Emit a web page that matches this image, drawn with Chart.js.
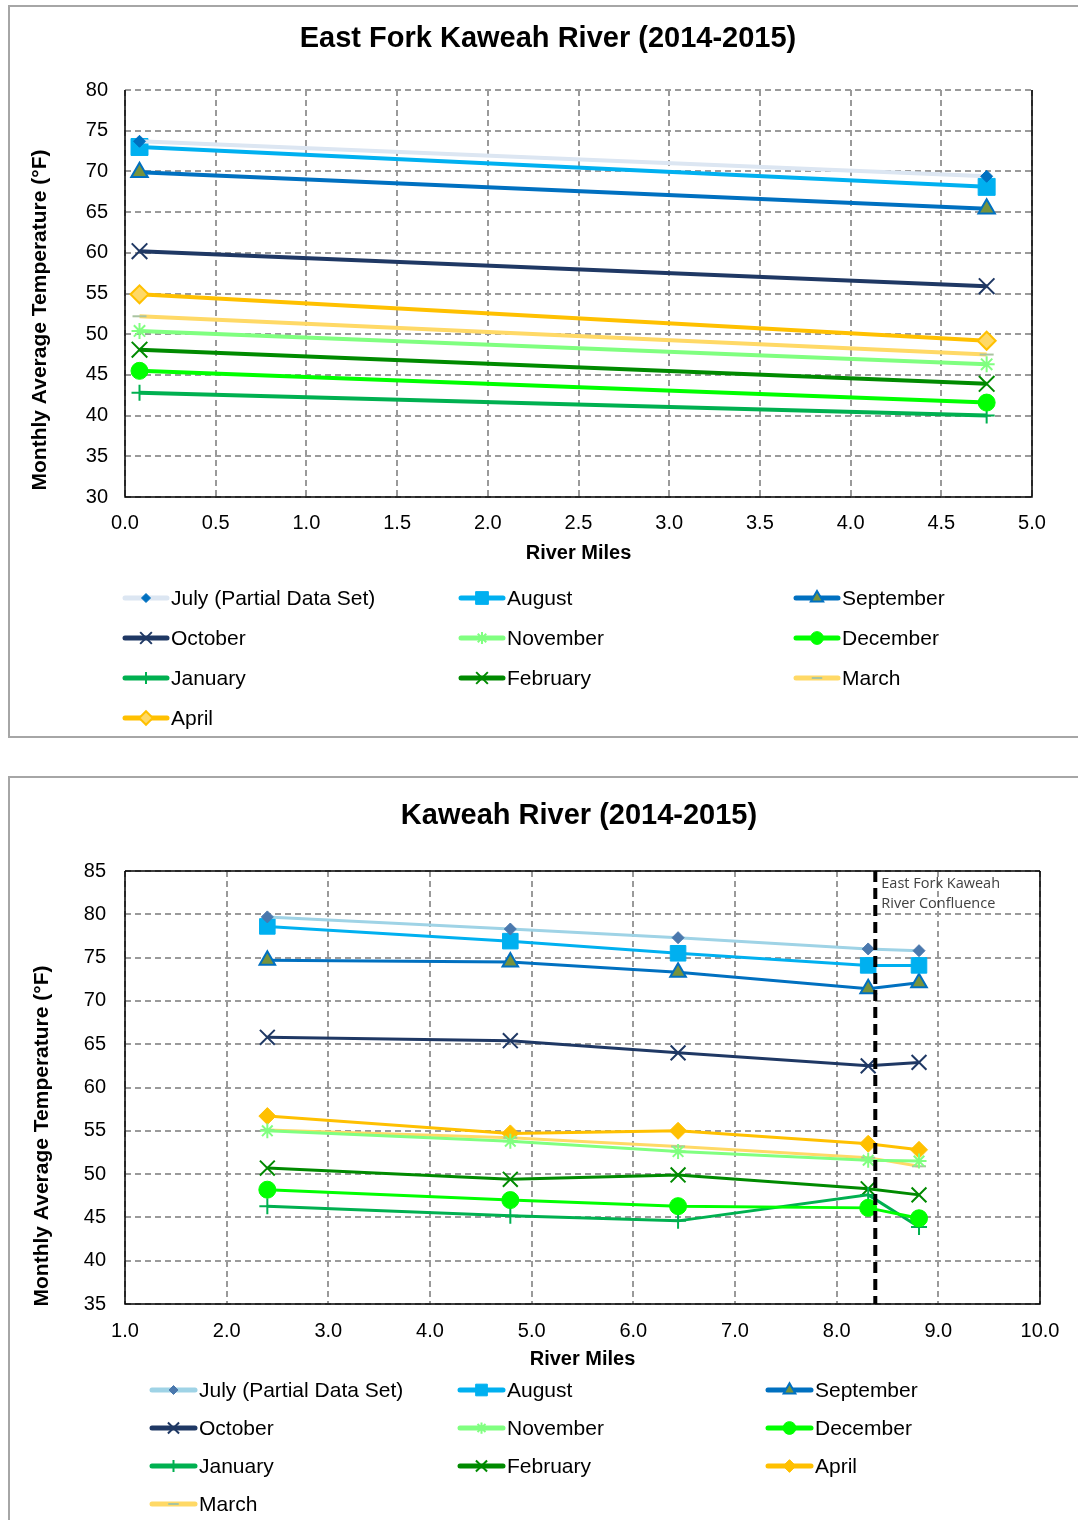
<!DOCTYPE html>
<html><head><meta charset="utf-8">
<script src="https://cdn.jsdelivr.net/npm/chart.js@4.4.1/dist/chart.umd.min.js"></script>
<style>
html,body{margin:0;padding:0;background:#fff;width:1078px;height:1520px;overflow:hidden;}
.box{position:absolute;border:2px solid #a6a6a6;box-sizing:border-box;}
.wrap{position:absolute;left:0;width:1078px;}
</style></head><body>
<div class="box" style="left:8px;top:5px;width:1090px;height:733px;"></div>
<div class="box" style="left:8px;top:776px;width:1090px;height:780px;"></div>
<div class="wrap" style="top:0;height:740px;"><canvas id="c1"></canvas></div>
<div class="wrap" style="top:776px;height:744px;"><canvas id="c2"></canvas></div>
<script>
// ---------- DATA ----------
const titleEastFork = 'East Fork Kaweah River (2014-2015)';
const titleKaweah = 'Kaweah River (2014-2015)';
const yAxisTitle = 'Monthly Average Temperature (°F)';
const xAxisTitle = 'River Miles';
const confluenceLabel = ['East Fork Kaweah', 'River Confluence'];
const confluenceMile = 8.38;

const monthsEF = ['July (Partial Data Set)','August','September','October','November','December','January','February','March','April'];
const monthsKR = ['July (Partial Data Set)','August','September','October','November','December','January','February','April','March'];

// East Fork Kaweah River — river mile stations
const efMiles = [0.08, 4.75];
const efJuly = [73.7, 69.4];
const efAugust = [73.0, 68.1];
const efSeptember = [69.9, 65.4];
const efOctober = [60.2, 55.9];
const efNovember = [50.4, 46.3];
const efDecember = [45.5, 41.6];
const efJanuary = [42.8, 40.0];
const efFebruary = [48.1, 43.9];
const efMarch = [52.2, 47.5];
const efApril = [54.9, 49.2];

// Kaweah River — river mile stations
const krMiles = [2.40, 4.79, 6.44, 8.31, 8.81];
const krJuly = [79.7, 78.3, 77.3, 76.0, 75.8];
const krAugust = [78.6, 76.9, 75.5, 74.1, 74.1];
const krSeptember = [74.7, 74.5, 73.3, 71.4, 72.1];
const krOctober = [65.8, 65.4, 64.0, 62.5, 62.9];
const krNovember = [55.0, 53.8, 52.6, 51.6, 51.5];
const krDecember = [48.2, 47.0, 46.3, 46.1, 44.9];
const krJanuary = [46.3, 45.2, 44.6, 47.6, 43.9];
const krFebruary = [50.7, 49.4, 49.9, 48.3, 47.6];
const krApril = [56.7, 54.7, 55.0, 53.5, 52.8];
const krMarch = [55.1, 54.2, 53.2, 51.9, 50.9];

// ---------- STYLES ----------
const FONT = "'Liberation Sans', Arial, sans-serif";
const styleTop = {
  'July (Partial Data Set)': {line:'#dce6f2', style:'rectRot', fill:'#0070c0', stroke:'#0070c0', r:6, bw:1},
  'August': {line:'#00b0f0', style:'rect', fill:'#00b0f0', stroke:'#00b0f0', r:12, bw:1},
  'September': {line:'#0070c0', style:'triangle', fill:'#77933c', stroke:'#0070c0', r:9.5, bw:2},
  'October': {line:'#1f3864', style:'crossRot', fill:'#1f3864', stroke:'#1f3864', r:11, bw:2},
  'November': {line:'#80ff80', style:'star', fill:'#80ff80', stroke:'#80ff80', r:8, bw:2},
  'December': {line:'#00ff00', style:'circle', fill:'#00ff00', stroke:'#00ff00', r:8.5, bw:1},
  'January': {line:'#00b050', style:'cross', fill:'#00b050', stroke:'#00b050', r:8, bw:2},
  'February': {line:'#008a00', style:'crossRot', fill:'#008a00', stroke:'#008a00', r:11, bw:2},
  'March': {line:'#ffd966', style:'line', fill:'#a9c4a0', stroke:'#a9c4a0', r:7, bw:2},
  'April': {line:'#ffc000', style:'rectRot', fill:'#ffd966', stroke:'#ffc000', r:9, bw:2}
};
const styleBottom = {
  'July (Partial Data Set)': {line:'#9fd3e6', style:'rectRot', fill:'#4a78ad', stroke:'#4a78ad', r:6, bw:1},
  'August': {line:'#00b0f0', style:'rect', fill:'#00b0f0', stroke:'#00b0f0', r:11, bw:1},
  'September': {line:'#0070c0', style:'triangle', fill:'#77933c', stroke:'#0070c0', r:9, bw:2},
  'October': {line:'#1f3864', style:'crossRot', fill:'#1f3864', stroke:'#1f3864', r:10.5, bw:2},
  'November': {line:'#80ff80', style:'star', fill:'#80ff80', stroke:'#80ff80', r:7.5, bw:2},
  'December': {line:'#00ff00', style:'circle', fill:'#00ff00', stroke:'#00ff00', r:8.5, bw:1},
  'January': {line:'#00b050', style:'cross', fill:'#00b050', stroke:'#00b050', r:8, bw:2},
  'February': {line:'#008a00', style:'crossRot', fill:'#008a00', stroke:'#008a00', r:10.5, bw:2},
  'April': {line:'#ffc000', style:'rectRot', fill:'#ffc000', stroke:'#ffc000', r:8.5, bw:1},
  'March': {line:'#ffd966', style:'line', fill:'#a9c4a0', stroke:'#a9c4a0', r:7, bw:2}
};

function makeDatasets(names, miles, series, styles, lw){
  return names.map((n,i)=>{
    const s = styles[n];
    return {
      label:n,
      data: miles.map((m,j)=>({x:m, y:series[i][j]})),
      borderColor:s.line, backgroundColor:s.line, borderWidth:lw,
      pointStyle:s.style, pointRadius:s.r, pointHoverRadius:s.r,
      pointBackgroundColor:s.fill, pointBorderColor:s.stroke, pointBorderWidth:s.bw,
      showLine:true, tension:0, clip:false
    };
  });
}

// ---------- PLUGIN ----------
const deco = {
  id:'deco',
  beforeDatasetsDraw(chart, args, o){
    const {ctx, chartArea:a} = chart;
    ctx.save();
    ctx.setLineDash([]);
    ctx.strokeStyle = '#000'; ctx.lineWidth = 1.5;
    ctx.beginPath();
    if (o.topBorder){ ctx.moveTo(a.left, a.top); ctx.lineTo(a.right, a.top); }
    ctx.moveTo(a.left, a.top); ctx.lineTo(a.left, a.bottom); ctx.lineTo(a.right, a.bottom); ctx.lineTo(a.right, a.top);
    ctx.stroke();
    ctx.restore();
  },
  afterDatasetsDraw(chart, args, o){
    if (o.vline == null) return;
    const {ctx, chartArea:a} = chart;
    const x = chart.scales.x.getPixelForValue(o.vline);
    ctx.save();
    ctx.strokeStyle = '#000'; ctx.lineWidth = 4; ctx.setLineDash([11,6]);
    ctx.beginPath(); ctx.moveTo(x, a.top); ctx.lineTo(x, a.bottom); ctx.stroke();
    ctx.setLineDash([]);
    ctx.fillStyle = '#404040'; ctx.font = "14.5px 'Open Sans', sans-serif";
    ctx.textAlign = 'left'; ctx.textBaseline = 'middle';
    o.vlabel.forEach((t,i)=> ctx.fillText(t, x + 6, a.top + 13 + i*20));
    ctx.restore();
  },
  afterDraw(chart, args, o){
    const {ctx} = chart;
    ctx.save();
    ctx.fillStyle = '#000';
    ctx.textAlign = 'center'; ctx.textBaseline = 'middle';
    ctx.font = 'bold 29px ' + FONT;
    ctx.fillText(o.title, o.titleX, o.titleY);
    ctx.save();
    ctx.translate(o.yTitleX, o.yTitleY); ctx.rotate(-Math.PI/2);
    ctx.font = 'bold 21px ' + FONT;
    ctx.fillText(o.yTitle, 0, 0);
    ctx.restore();
    // legend
    const L = o.legend;
    const dp = Chart.helpers && Chart.helpers.drawPoint;
    chart.data.datasets.forEach((ds,i)=>{
      const col = i % 3, row = Math.floor(i/3);
      const x0 = L.cols[col], y = L.rows[row];
      ctx.setLineDash([]);
      ctx.strokeStyle = ds.borderColor; ctx.lineWidth = L.lw; ctx.lineCap = 'round';
      ctx.beginPath(); ctx.moveTo(x0, y); ctx.lineTo(x0 + L.len, y); ctx.stroke();
      ctx.lineCap = 'butt';
      ctx.fillStyle = ds.pointBackgroundColor; ctx.strokeStyle = ds.pointBorderColor;
      ctx.lineWidth = ds.pointBorderWidth;
      if (dp) dp(ctx, {pointStyle:ds.pointStyle, radius:ds.pointRadius*L.scale, rotation:0, borderWidth:ds.pointBorderWidth}, x0 + L.len/2, y);
      ctx.fillStyle = '#000'; ctx.font = '21px ' + FONT;
      ctx.textAlign = 'left'; ctx.textBaseline = 'middle';
      ctx.fillText(ds.label, x0 + L.len + 4, y + 1);
    });
    ctx.restore();
  }
};

function scales(xmin, xmax, xstep, ymin, ymax, ystep, xTickPad, yTickPad, xTitlePad){
  const grid = {color:'#9a9a9a', lineWidth:2, drawTicks:false};
  const border = {display:false, dash:[6,4]};
  return {
    x:{type:'linear', min:xmin, max:xmax,
       ticks:{stepSize:xstep, padding:xTickPad, color:'#000', font:{family:FONT, size:20}, maxRotation:0,
              callback:v=>Number(v).toFixed(1)},
       grid, border,
       title:{display:true, text:xAxisTitle, color:'#000', font:{family:FONT, size:20, weight:'bold'}, padding:{top:0,bottom:xTitlePad}},
       afterFit:s=>{s.height = 70;}},
    y:{type:'linear', min:ymin, max:ymax,
       ticks:{stepSize:ystep, padding:yTickPad, color:'#000', font:{family:FONT, size:20}},
       grid, border,
       afterFit:s=>{s.width = 125;}}
  };
}

new Chart(document.getElementById('c1'), {
  type:'line',
  data:{datasets: makeDatasets(monthsEF, efMiles,
    [efJuly, efAugust, efSeptember, efOctober, efNovember, efDecember, efJanuary, efFebruary, efMarch, efApril], styleTop, 4)},
  options:{
    responsive:true, maintainAspectRatio:false, animation:false,
    layout:{padding:{left:0, right:46, top:90, bottom:173}},
    scales: scales(0, 5, 0.5, 30, 80, 5, 14, 17, 2),
    plugins:{legend:{display:false}, tooltip:{enabled:false},
      deco:{title:titleEastFork, titleX:548, titleY:39, yTitle:yAxisTitle, yTitleX:40, yTitleY:320, topBorder:false,
        legend:{cols:[125, 461, 796], rows:[598, 638, 678, 718], len:42, lw:5, scale:0.75}}}
  },
  plugins:[deco]
});

new Chart(document.getElementById('c2'), {
  type:'line',
  data:{datasets: makeDatasets(monthsKR, krMiles,
    [krJuly, krAugust, krSeptember, krOctober, krNovember, krDecember, krJanuary, krFebruary, krApril, krMarch], styleBottom, 3)},
  options:{
    responsive:true, maintainAspectRatio:false, animation:false,
    layout:{padding:{left:0, right:38, top:95, bottom:146}},
    scales: scales(1, 10, 1, 35, 85, 5, 15, 19, 3),
    plugins:{legend:{display:false}, tooltip:{enabled:false},
      deco:{title:titleKaweah, titleX:579, titleY:40, yTitle:yAxisTitle, yTitleX:42, yTitleY:360, topBorder:true,
        vline:confluenceMile, vlabel:confluenceLabel,
        legend:{cols:[152, 460, 768], rows:[614, 652, 690, 728], len:43, lw:5, scale:0.75}}}
  },
  plugins:[deco]
});
</script>
</body></html>
